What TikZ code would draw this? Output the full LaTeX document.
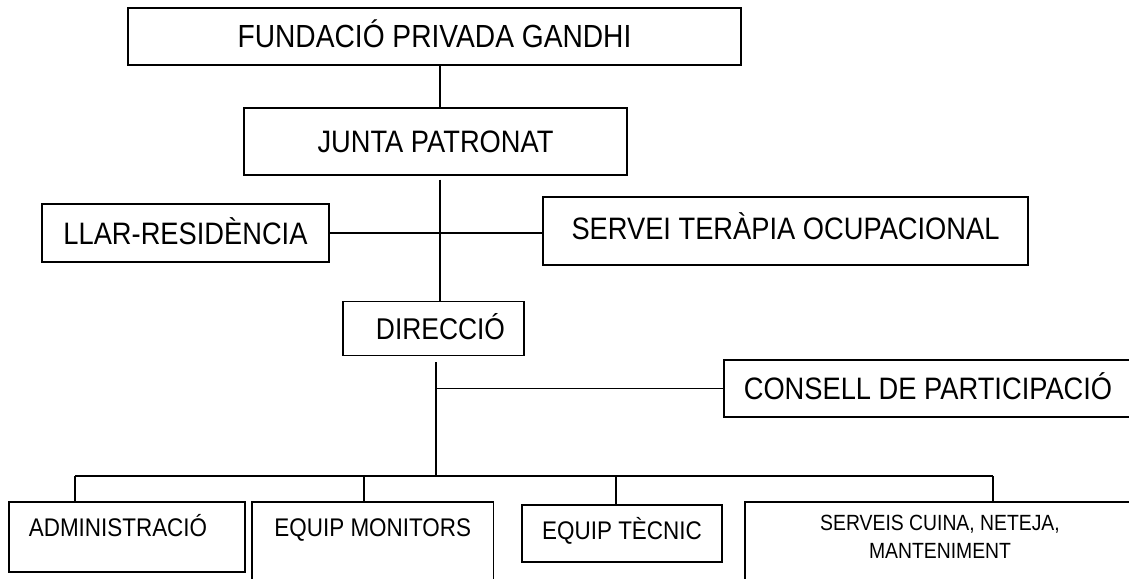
\documentclass[tikz,border=0pt]{standalone}
\usepackage{fontspec}
\setmainfont{Liberation Sans}[FakeStretch=0.88]
\begin{document}
\begin{tikzpicture}[x=1pt,y=-1pt,
  box/.style={draw, line width=1.2pt, inner sep=0pt, text depth=0pt},
  link/.style={line width=1.8pt},
  big/.style={font=\fontsize{31}{37}\selectfont, text height=22.2pt},
  small/.style={font=\fontsize{25.5}{30}\selectfont, text height=18.3pt}]
\useasboundingbox (0,0) rectangle (1129,578);
\clip (0,0) rectangle (1129,578);
\fill[white] (0,0) rectangle (1129,578);
% top part
\node[box,big,font=\fontsize{32}{38}\selectfont,text height=22.9pt,minimum width=613pt,minimum height=57pt] (fund) at (434.5,36.5) {FUNDACIÓ PRIVADA GANDHI};
\node[box,big,minimum width=383pt,minimum height=67pt] (junta) at (435.5,141.5) {JUNTA PATRONAT};
\node[box,big,minimum width=287pt,minimum height=58pt] (llar) at (185.5,233) {LLAR-RESIDÈNCIA};
\node[box,big,minimum width=485pt,minimum height=68pt,text depth=5pt] (servei) at (785.5,231) {SERVEI TERÀPIA OCUPACIONAL};
\node[box,big,font=\fontsize{30}{36}\selectfont,minimum width=181pt,minimum height=54pt] (dir) at (433.5,328.5) {\hspace*{14pt}DIRECCIÓ};
\node[box,big,minimum width=408pt,minimum height=57pt] (consell) at (928,388.5) {CONSELL DE PARTICIPACIÓ};
% bottom boxes
\node[box,small,minimum width=236pt,minimum height=70pt,text depth=20pt] (admin) at (127,537) {\hspace*{-18pt}ADMINISTRACIÓ};
\node[box,small,minimum width=241.5pt,minimum height=98pt,text depth=48pt] (mon) at (372.75,551) {EQUIP MONITORS};
\node[box,small,minimum width=200pt,minimum height=57pt,text depth=6pt] (tec) at (622,533.5) {EQUIP TÈCNIC};
\node[box,font=\fontsize{22}{28.5}\selectfont,align=center,text depth=28pt,minimum width=390pt,minimum height=98pt] (serv) at (940,551) {SERVEIS CUINA, NETEJA,\\MANTENIMENT};
% connectors
\coordinate (sp) at (440,0);
\coordinate (sp2) at (436,0);
\coordinate (barL) at (75,476);
\coordinate (barR) at (993,476);
\coordinate (dm) at (364,476);
\coordinate (dt) at (616,476);
\draw[link] (fund.south -| sp) -- (junta.north -| sp);
\draw[link] ([yshift=-4pt]junta.south -| sp) -- (dir.north -| sp);
\draw[link] (llar.east) -- (llar.east -| servei.west);
\draw[link] ([yshift=-6pt]dir.south -| sp2) -- (barL -| sp2);
\draw[link] (consell.west) -- (consell.west -| sp2);
\draw[link] (barL) -- (barR);
\draw[link] (barL) -- (barL |- admin.north);
\draw[link] (dm) -- (dm |- mon.north);
\draw[link] (dt) -- (dt |- tec.north);
\draw[link] (barR) -- (barR |- serv.north);
\end{tikzpicture}
\end{document}
